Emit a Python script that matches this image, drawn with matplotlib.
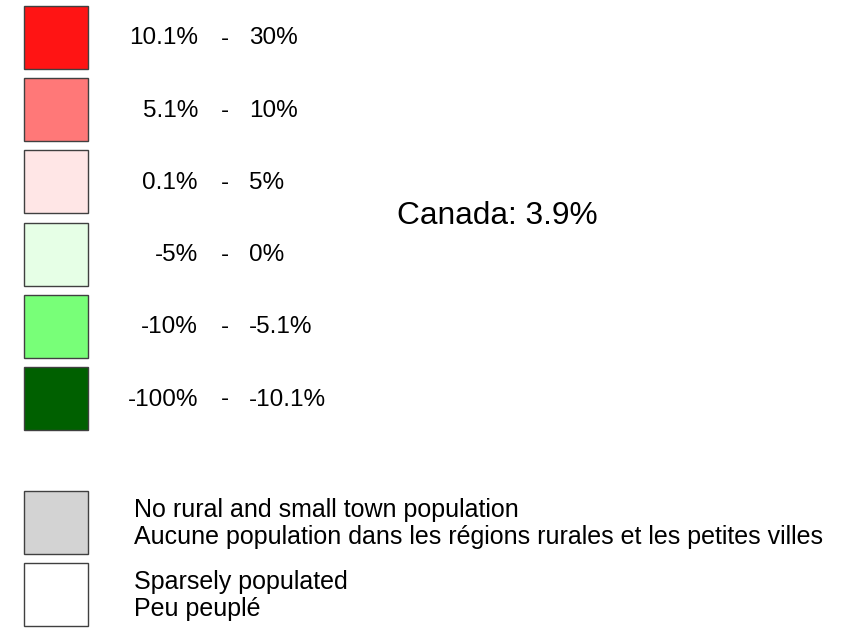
import matplotlib
matplotlib.use("Agg")
import matplotlib.pyplot as plt
from matplotlib.patches import Rectangle

low_labels = ["10.1%", "5.1%", "0.1%", "-5%", "-10%", "-100%"]
high_labels = ["30%", "10%", "5%", "0%", "-5.1%", "-10.1%"]
class_colors = ["#FF1414", "#FF7878", "#FFE6E6", "#E6FFE6", "#78FF78", "#006000"]
extra_colors = ["#D3D3D3", "#FFFFFF"]
extra_labels = ["No rural and small town population\nAucune population dans les régions rurales et les petites villes",
                "Sparsely populated\nPeu peuplé"]
summary = "Canada: 3.9%"

FONT = "Liberation Sans"

fig = plt.figure(figsize=(8.57, 6.38), dpi=100)
ax = fig.add_axes([0, 0, 1, 1])
ax.set_xlim(0, 857)
ax.set_ylim(638, 0)
ax.axis("off")

box_x, box_w, box_h = 24, 64, 63
row_step = 72.2
for i, (c, lo, hi) in enumerate(zip(class_colors, low_labels, high_labels)):
    y0 = 6 + i * row_step
    ax.add_patch(Rectangle((box_x, y0), box_w, box_h, facecolor=c, edgecolor="#404040", lw=1))
    yc = y0 + box_h / 2 + 1
    ax.text(198, yc, lo, ha="right", va="center", fontsize=17.5, family=FONT)
    ax.text(225, yc, "-", ha="center", va="center", fontsize=17.5, family=FONT)
    ax.text(249, yc, hi, ha="left", va="center", fontsize=17.5, family=FONT)

for j, (c, lab) in enumerate(zip(extra_colors, extra_labels)):
    y0 = 491 + j * 72
    ax.add_patch(Rectangle((box_x, y0), box_w, box_h, facecolor=c, edgecolor="#404040", lw=1))
    ax.text(134, y0 + box_h / 2 + 1, lab, ha="left", va="center", fontsize=18, family=FONT,
            linespacing=1.2)

ax.text(497, 216, summary, ha="center", va="center", fontsize=22.8, family=FONT)
fig.savefig("out.png", dpi=100)
